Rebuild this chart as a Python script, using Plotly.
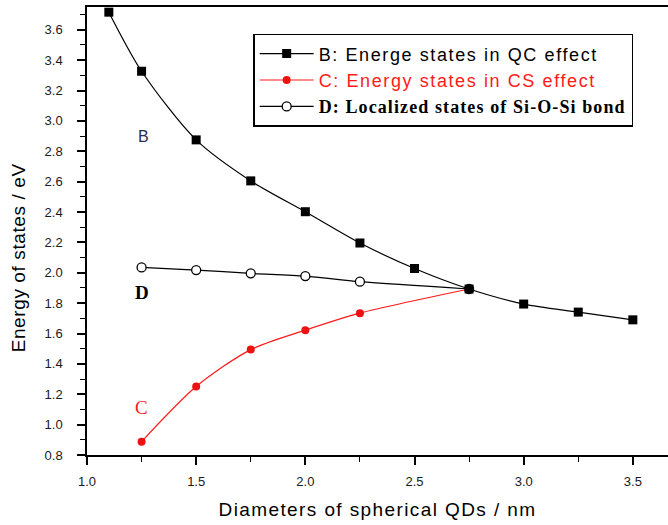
import plotly.graph_objects as go

# Data
b_x = [1.1, 1.25, 1.5, 1.75, 2.0, 2.25, 2.5, 2.75, 3.0, 3.25, 3.5]
b_y = [3.716, 3.327, 2.875, 2.605, 2.402, 2.196, 2.028, 1.893, 1.794, 1.741, 1.690]

c_x = [1.25, 1.5, 1.75, 2.0, 2.25, 2.75]
c_y = [0.888, 1.251, 1.494, 1.622, 1.734, 1.893]

d_x = [1.25, 1.5, 1.75, 2.0, 2.25, 2.75]
d_y = [2.035, 2.018, 1.996, 1.978, 1.941, 1.893]

y_ticks = [0.8, 1.0, 1.2, 1.4, 1.6, 1.8, 2.0, 2.2, 2.4, 2.6, 2.8, 3.0, 3.2, 3.4, 3.6]
x_ticks = [1.0, 1.5, 2.0, 2.5, 3.0, 3.5]

name_b = "<span style='letter-spacing:1.6px'>B: Energe states in QC effect</span>"
name_c = "<span style='color:#ff1a1a;letter-spacing:1.6px'>C: Energy states in CS effect</span>"
name_d = ("<span style=\"font-family:'Liberation Serif';font-weight:bold;letter-spacing:1.1px\">"
          "D: Localized states of Si-O-Si bond</span>")

fig = go.Figure()
fig.add_trace(go.Scatter(
    x=d_x, y=d_y, mode="lines+markers", name=name_d,
    line=dict(color="black", width=1.2, shape="spline", smoothing=0.8),
    marker=dict(symbol="circle", size=9, color="white",
                line=dict(color="black", width=1.3)),
    legendrank=3,
))
fig.add_trace(go.Scatter(
    x=c_x, y=c_y, mode="lines+markers", name=name_c,
    line=dict(color="#ff1a1a", width=1.2, shape="spline", smoothing=0.8),
    marker=dict(symbol="circle", size=8, color="#ee1111"),
    legendrank=2,
))
fig.add_trace(go.Scatter(
    x=b_x, y=b_y, mode="lines+markers", name=name_b,
    line=dict(color="black", width=1.2, shape="spline", smoothing=0.8),
    marker=dict(symbol="square", size=9, color="black"),
    legendrank=1,
))

fig.add_annotation(x=1.26, y=2.9, text="B", showarrow=False,
                   font=dict(family="Arial, Liberation Sans", size=16, color="#2b2b5a"))
fig.add_annotation(x=1.25, y=1.87, text="<b>D</b>", showarrow=False,
                   font=dict(family="Liberation Serif", size=19, color="black"))
fig.add_annotation(x=1.25, y=1.11, text="C", showarrow=False,
                   font=dict(family="Liberation Serif", size=19, color="#ff2020"))

# y-axis title placed as a rotated annotation
fig.add_annotation(xref="paper", yref="paper", x=-0.118, y=0.44,
                   text="<span style='letter-spacing:0.6px'>Energy of states / eV</span>",
                   textangle=-90, showarrow=False,
                   xanchor="center", yanchor="middle",
                   font=dict(family="Arial, Liberation Sans", size=19, color="black"))

axis_font = dict(family="Arial, Liberation Sans", size=13, color="#1a1a1a")

fig.update_layout(
    width=668, height=525,
    margin=dict(l=87, r=0, t=7, b=70),
    paper_bgcolor="white", plot_bgcolor="white",
    showlegend=True,
    legend=dict(
        x=0.286, y=0.94, xanchor="left", yanchor="top",
        bgcolor="white", bordercolor="black", borderwidth=1.5,
        font=dict(family="Arial, Liberation Sans", size=18, color="black"),
        itemwidth=54, tracegroupgap=0,
    ),
    xaxis=dict(
        range=[1.0, 3.661], tickvals=x_ticks, ticktext=[f"{v:.1f}" for v in x_ticks],
        showgrid=False, zeroline=False, showline=True, linecolor="black", linewidth=1.5,
        mirror=True,
        ticks="outside", ticklen=8, tickwidth=1.5, tickcolor="black",
        minor=dict(dtick=0.25, tick0=1.0, ticks="outside", ticklen=5, tickwidth=1.2,
                   tickcolor="black", showgrid=False),
        tickfont=axis_font, ticklabelstandoff=6,
        title=dict(text="<span style='letter-spacing:1.4px'>Diameters of spherical QDs / nm</span>",
                   standoff=14,
                   font=dict(family="Arial, Liberation Sans", size=19, color="black")),
    ),
    yaxis=dict(
        range=[0.8, 3.75], tickvals=y_ticks, ticktext=[f"{v:.1f}" for v in y_ticks],
        showgrid=False, zeroline=False, showline=True, linecolor="black", linewidth=1.5,
        ticks="outside", ticklen=8, tickwidth=1.5, tickcolor="black",
        minor=dict(dtick=0.1, tick0=0.8, ticks="outside", ticklen=5, tickwidth=1.2,
                   tickcolor="black", showgrid=False),
        tickfont=axis_font, ticklabelstandoff=12,
    ),
)

fig.write_html("out.html")
